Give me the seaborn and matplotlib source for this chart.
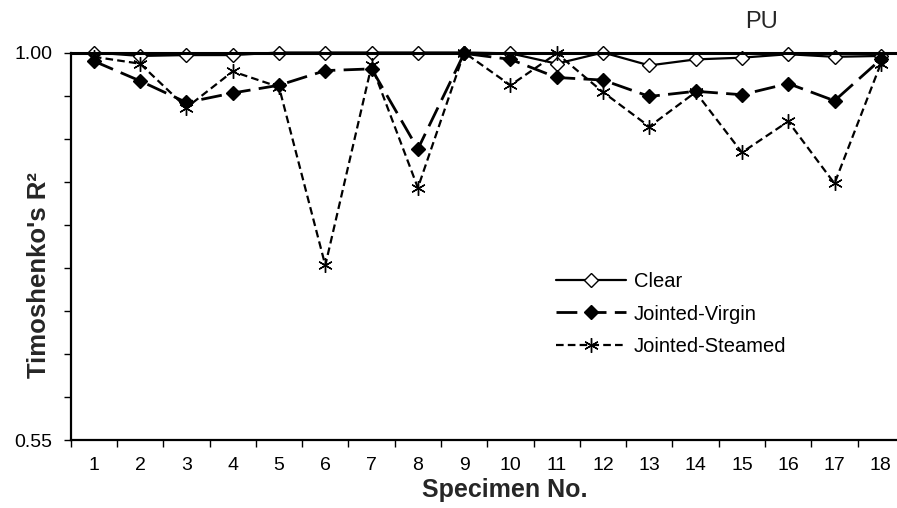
import numpy as np
import pandas as pd
import matplotlib
matplotlib.use("Agg")
import matplotlib.pyplot as plt
import seaborn as sns
from matplotlib.ticker import FixedLocator, FuncFormatter

# ---- data ----
specimens = list(range(1, 19))
clear = [1.000, 0.996, 0.997, 0.997, 1.000, 1.000, 1.000, 1.000, 1.000,
         0.999, 0.987, 1.000, 0.985, 0.992, 0.994, 0.998, 0.995, 0.996]
jointed_virgin = [0.990, 0.967, 0.942, 0.953, 0.962, 0.979, 0.981, 0.888, 0.999,
                  0.992, 0.971, 0.968, 0.949, 0.955, 0.951, 0.964, 0.944, 0.992]
jointed_steamed = [0.995, 0.987, 0.936, 0.978, 0.960, 0.753, 0.985, 0.843, 1.000,
                   0.962, 0.999, 0.954, 0.914, 0.954, 0.884, 0.920, 0.848, 0.987]
series_names = ["Clear", "Jointed-Virgin", "Jointed-Steamed"]
title_text = "PU"
x_label = "Specimen No."
y_label = "Timoshenko's R²"

sns.set_theme(style="white")
plt.rcParams["font.family"] = ["Liberation Sans", "DejaVu Sans"]
plt.rcParams["lines.scale_dashes"] = False

fig = plt.figure(figsize=(8.97, 5.08), dpi=100)
W, H = 897, 508
ax = fig.add_axes([70.7 / W, 1 - 440.3 / H, (W - 70.7) / W, (440.3 - 52.5) / H])

idx = np.arange(len(specimens))
styles = [
    dict(color="black", lw=1.6, linestyle="-", marker="D", markersize=7.0,
         markerfacecolor="white", markeredgecolor="black", markeredgewidth=1.0),
    dict(color="black", lw=2.0, linestyle=(0, (15, 6)), marker="D", markersize=7.2,
         markerfacecolor="black", markeredgecolor="black", markeredgewidth=1.0),
    dict(color="black", lw=1.6, linestyle=(0, (5.5, 3)), marker=(6, 2, 0), markersize=10.5,
         markerfacecolor="black", markeredgecolor="black", markeredgewidth=1.0),
]
for name, vals, st in zip(series_names, [clear, jointed_virgin, jointed_steamed], styles):
    df = pd.DataFrame({"x": idx, "y": vals})
    sns.lineplot(data=df, x="x", y="y", ax=ax, sort=False, clip_on=False, label=name, **st)

ax.set_xlim(-0.5, 17.35)
ax.set_ylim(0.55, 1.00)

# x ticks: labels at categories, tick marks between categories
ax.xaxis.set_major_locator(FixedLocator(idx))
ax.set_xticklabels([str(s) for s in specimens])
ax.xaxis.set_minor_locator(FixedLocator(np.arange(-0.5, 18, 1)))
ax.tick_params(axis="x", which="major", length=0, pad=12, labelsize=14, colors="black")
ax.tick_params(axis="x", which="minor", length=5, width=1.0, direction="out", bottom=True, color="black")

# y ticks every 0.05, labels only at ends
yt = np.round(np.arange(0.55, 1.0001, 0.05), 2)
ax.yaxis.set_major_locator(FixedLocator(yt))
ax.yaxis.set_major_formatter(FuncFormatter(lambda v, p: f"{v:.2f}" if (abs(v - 0.55) < 1e-6 or abs(v - 1.0) < 1e-6) else ""))
ax.tick_params(axis="y", which="major", length=5, width=1.0, direction="out", left=True, pad=8,
               labelsize=14, colors="black")

for side in ["left", "bottom"]:
    ax.spines[side].set_visible(True)
    ax.spines[side].set_color("black")
    ax.spines[side].set_linewidth(1.6)
ax.spines["top"].set_visible(True)
ax.spines["top"].set_color("black")
ax.spines["top"].set_linewidth(2.2)
ax.spines["right"].set_visible(False)
ax.set_xlabel("")
ax.set_ylabel("")
ax.grid(False)

fig.text(505 / W, 1 - 497 / H, x_label, ha="center", va="baseline", fontsize=18, fontweight="bold")
fig.text(51 / W, 1 - 275 / H, y_label, ha="right", va="center", rotation=90, fontsize=18.5, fontweight="bold")
fig.text(761 / W, 1 - 28.3 / H, title_text, ha="center", va="baseline", fontsize=17)

leg = ax.legend(loc="center left", bbox_to_anchor=(556 / W, 1 - 314 / H), bbox_transform=fig.transFigure,
                frameon=False, fontsize=14.5, handlelength=3.5, handletextpad=0.35, labelspacing=0.68,
                borderpad=0, borderaxespad=0, numpoints=1)
for t in leg.get_texts():
    t.set_color("black")

fig.savefig("out.png", dpi=100)
